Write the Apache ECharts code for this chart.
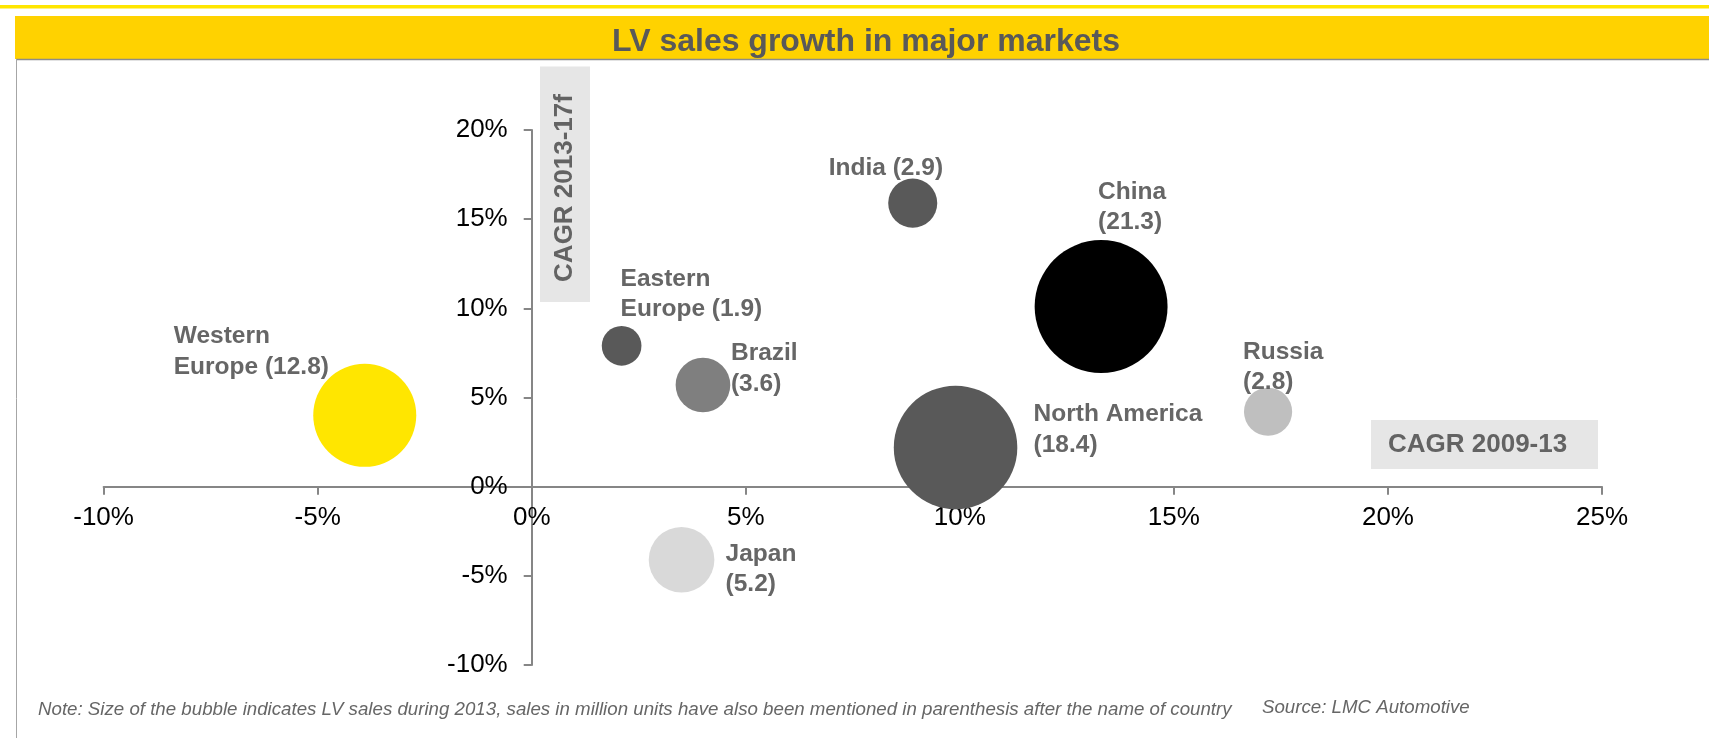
<!DOCTYPE html>
<html>
<head>
<meta charset="utf-8">
<title>LV sales growth in major markets</title>
<script src="https://cdn.jsdelivr.net/npm/echarts@6/dist/echarts.min.js"></script>
<style>
  html, body { margin: 0; padding: 0; background: #fff; }
  #chart { width: 1709px; height: 738px; }
</style>
</head>
<body>
<div id="chart"></div>
<script>
// 市场
const markets = ['Western Europe', 'Eastern Europe', 'Brazil', 'India', 'China', 'North America', 'Russia', 'Japan']
// CAGR 2009-13 (%) -> x
const cagr0913 = [-3.9, 2.1, 4.0, 8.9, 13.3, 9.9, 17.2, 3.5]
// CAGR 2013-17f (%) -> y
const cagr1317 = [4.0, 7.9, 5.7, 15.9, 10.1, 2.2, 4.2, -4.1]
// LV sales 2013, million units -> bubble size
const sales2013 = [12.8, 1.9, 3.6, 2.9, 21.3, 18.4, 2.8, 5.2]
// 刻度
const xTicks = [-10, -5, 0, 5, 10, 15, 20, 25]
const yTicks = [-10, -5, 0, 5, 10, 15, 20]

const FONT = '"Liberation Sans", Arial, sans-serif'
const GREY_TEXT = '#666666'
const AXIS_GREY = '#868686'

// 画布 / 绘图区
const W = 1709
const H = 738
const GRID = { left: 103.6, right: 107, top: 130, bottom: 73 }
const gridW = W - GRID.left - GRID.right
const gridH = H - GRID.top - GRID.bottom
const xMin = xTicks[0]
const xMax = xTicks[xTicks.length - 1]
const yMin = yTicks[0]
const yMax = yTicks[yTicks.length - 1]
// 坐标轴穿过 0 点（含刻度标签），用 offset 移过去
const yAxisOffset = -((0 - xMin) / (xMax - xMin)) * gridW
const xAxisOffset = -((0 - yMin) / (yMax - yMin)) * gridH

// 气泡颜色 / 标签摆放 (offset 是相对气泡中心的像素)
const bubbleStyle = {
  'Western Europe': { color: '#FFE600', offset: [-191, -94], wrap: 'name' },
  'Eastern Europe': { color: '#595959', offset: [-1, -82], wrap: 'name' },
  'Brazil':         { color: '#7F7F7F', offset: [28, -47], wrap: 'value' },
  'India':          { color: '#595959', offset: [-84, -50], wrap: 'none' },
  'China':          { color: '#000000', offset: [-3, -130], wrap: 'value' },
  'North America':  { color: '#595959', offset: [78, -48], wrap: 'value' },
  'Russia':         { color: '#BFBFBF', offset: [-25, -75], wrap: 'value' },
  'Japan':          { color: '#D9D9D9', offset: [44, -21], wrap: 'value' }
}

const labelText = (name, sales, wrap) => {
  if (wrap === 'name') return name.replace(' ', '\n') + ' (' + sales + ')'
  if (wrap === 'value') return name + '\n(' + sales + ')'
  return name + ' (' + sales + ')'
}

const bubbleData = markets.map((name, i) => {
  const st = bubbleStyle[name]
  return {
    name: name,
    value: [cagr0913[i], cagr1317[i], sales2013[i]],
    itemStyle: { color: st.color, opacity: 1 },
    label: {
      show: true,
      position: 'inside',
      offset: st.offset,
      align: 'left',
      verticalAlign: 'top',
      formatter: labelText(name, sales2013[i], st.wrap)
    }
  }
})

const chart = echarts.init(document.getElementById('chart'), null, { renderer: 'canvas' })

const axisLabelStyle = {
  formatter: '{value}%',
  color: '#000',
  fontFamily: FONT,
  fontSize: 26
}

const option = {
  animation: false,
  backgroundColor: '#ffffff',
  title: {
    text: 'LV sales growth in major markets',
    left: 866,
    top: 26,
    padding: 0,
    textAlign: 'center',
    textStyle: {
      fontFamily: FONT,
      fontSize: 32,
      lineHeight: 32,
      fontWeight: 'bold',
      color: '#595959'
    }
  },
  grid: {
    left: GRID.left,
    right: GRID.right,
    top: GRID.top,
    bottom: GRID.bottom,
    containLabel: false,
    outerBoundsMode: 'none'
  },
  xAxis: {
    type: 'value',
    min: xMin,
    max: xMax,
    interval: xTicks[1] - xTicks[0],
    offset: xAxisOffset,
    splitLine: { show: false },
    axisLine: { onZero: false, lineStyle: { color: AXIS_GREY, width: 2 } },
    axisTick: { show: true, length: 8, lineStyle: { color: AXIS_GREY, width: 2 } },
    axisLabel: Object.assign({ margin: 18 }, axisLabelStyle)
  },
  yAxis: {
    type: 'value',
    min: yMin,
    max: yMax,
    interval: yTicks[1] - yTicks[0],
    offset: yAxisOffset,
    splitLine: { show: false },
    axisLine: { onZero: false, lineStyle: { color: AXIS_GREY, width: 2 } },
    axisTick: { show: true, length: 8, lineStyle: { color: AXIS_GREY, width: 2 } },
    axisLabel: Object.assign({ margin: 24 }, axisLabelStyle)
  },
  series: [{
    type: 'scatter',
    data: bubbleData,
    symbol: 'circle',
    // 面积 ∝ 销量
    symbolSize: (val) => 28.8 * Math.sqrt(val[2]),
    label: {
      fontFamily: FONT,
      fontSize: 24.5,
      lineHeight: 30.5,
      fontWeight: 'bold',
      color: GREY_TEXT
    },
    emphasis: { disabled: true },
    z: 3
  }],
  graphic: [
    // 顶部细黄线
    { type: 'rect', z: 0, shape: { x: 0, y: 5, width: W, height: 3.5 }, style: { fill: '#FFE600' } },
    // 标题黄条
    { type: 'rect', z: 0, shape: { x: 15, y: 16, width: W - 15, height: 43 }, style: { fill: '#FFD200' } },
    // 边框
    { type: 'line', z: 0, shape: { x1: 16, y1: 59.5, x2: W, y2: 59.5 }, style: { stroke: '#8C8C8C', lineWidth: 1.5 } },
    { type: 'line', z: 0, shape: { x1: 16.5, y1: 59, x2: 16.5, y2: H }, style: { stroke: '#A6A6A6', lineWidth: 1 } },
    // Y 轴说明
    { type: 'rect', z: 0, shape: { x: 540, y: 66.5, width: 50, height: 235.5 }, style: { fill: '#E6E6E6' } },
    {
      type: 'text', z: 10, x: 565, y: 188, rotation: Math.PI / 2,
      style: { text: 'CAGR 2013-17f', font: 'bold 26px ' + FONT, fill: '#636363', align: 'center', verticalAlign: 'middle' }
    },
    // X 轴说明
    { type: 'rect', z: 0, shape: { x: 1371, y: 420, width: 227, height: 49 }, style: { fill: '#E6E6E6' } },
    {
      type: 'text', z: 10, x: 1388, y: 445,
      style: { text: 'CAGR 2009-13', font: 'bold 26px ' + FONT, fill: '#636363', align: 'left', verticalAlign: 'middle' }
    },
    // 脚注
    {
      type: 'text', z: 10, x: 38, y: 710,
      style: {
        text: 'Note: Size of the bubble indicates LV sales during 2013, sales in million units have also been mentioned in parenthesis after the name of country',
        font: 'italic 18.7px ' + FONT, fill: GREY_TEXT, align: 'left', verticalAlign: 'middle'
      }
    },
    {
      type: 'text', z: 10, x: 1262, y: 708,
      style: { text: 'Source: LMC Automotive', font: 'italic 18.7px ' + FONT, fill: GREY_TEXT, align: 'left', verticalAlign: 'middle' }
    }
  ]
}

chart.setOption(option)
</script>
</body>
</html>
